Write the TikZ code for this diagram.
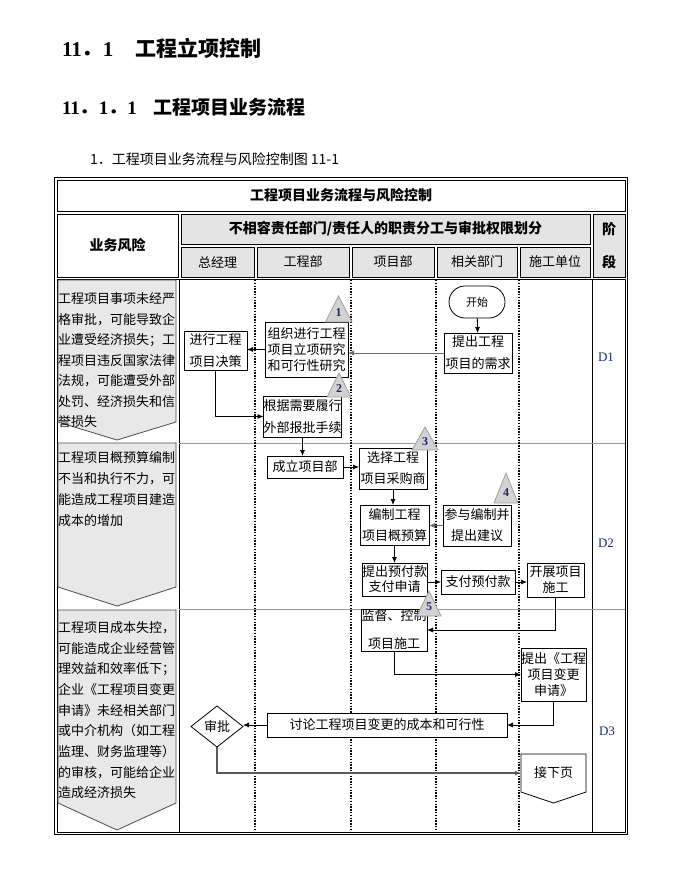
\documentclass[tikz,border=0pt]{standalone}
\usepackage{fontspec}
\setmainfont{Noto Sans CJK SC}
\newfontfamily\tnr{Liberation Serif}
\usetikzlibrary{arrows.meta,shapes.geometric}
\definecolor{hdr}{HTML}{E4E4E4}
\definecolor{riskfill}{HTML}{E8E8E8}
\definecolor{trig}{HTML}{D2D2D2}
\definecolor{navy}{HTML}{1A2B6B}
\begin{document}
\begin{tikzpicture}[x=1pt,y=-1pt,
  every node/.style={inner sep=0pt, outer sep=0pt},
  cellbox/.style={draw, line width=0.8pt, inner sep=0pt},
  hdrcell/.style={cellbox, fill=hdr},
  fbox/.style={draw, fill=white, line width=0.8pt, align=center, inner sep=0pt},
  arr/.style={-{Latex[length=6pt,width=5pt]}, line width=0.8pt},
  garr/.style={arr, draw=gray!85!black, fill=black},
  lanex/.style={line width=1.4pt, dash pattern=on 1.4pt off 1.4pt},
  rowsep/.style={draw=gray!80, line width=0.8pt},
  riskshape/.style={fill=riskfill, draw=gray!60!black, line width=0.8pt},
  triang/.style={fill=trig, draw=gray!75, line width=0.8pt},
  trinum/.style={font=\tnr\bfseries\fontsize{12}{12}\selectfont, text=navy},
  risktxt/.style={anchor=west, font=\fontsize{13}{14}\selectfont},
  dlab/.style={font=\tnr\fontsize{13}{14}\selectfont, text=navy},
]
\useasboundingbox (0,0) rectangle (680,869);

% headings
\node[anchor=west, font=\fontsize{21}{24}\selectfont\bfseries] (h1) at (62,48) {{\tnr 11}．{\tnr 1}\hspace{22pt}工程立项控制};
\node[anchor=west, font=\fontsize{19}{22}\selectfont\bfseries] (h2) at (62,107) {{\tnr 11}．{\tnr 1}．{\tnr 1}\hspace{17pt}工程项目业务流程};
\node[anchor=west, font=\fontsize{14}{16}\selectfont] (h3) at (90,159) {1．工程项目业务流程与风险控制图 11-1};

% table frame
\draw[line width=1pt] (54.5,177.5) rectangle (627.5,834.5);
\node[cellbox, minimum width=568pt, minimum height=31pt, font=\fontsize{14}{16}\selectfont\bfseries] (title) at (341,195.5) {工程项目业务流程与风险控制};
\node[cellbox, minimum width=121pt, minimum height=63pt, font=\fontsize{14}{16}\selectfont\bfseries] (riskhdr) at (117.5,245.5) {业务风险};
\node[hdrcell, minimum width=409pt, minimum height=30pt, font=\fontsize{14}{16}\selectfont\bfseries] (resphdr) at (385.5,229) {不相容责任部门/责任人的职责分工与审批权限划分};
\node[hdrcell, minimum width=73pt, minimum height=30pt, font=\fontsize{13}{14}\selectfont] (c1) at (217.5,262) {总经理};
\node[hdrcell, minimum width=92pt, minimum height=30pt, font=\fontsize{13}{14}\selectfont] (c2) at (303,262) {工程部};
\node[hdrcell, minimum width=82pt, minimum height=30pt, font=\fontsize{13}{14}\selectfont] (c3) at (393,262) {项目部};
\node[hdrcell, minimum width=80pt, minimum height=30pt, font=\fontsize{13}{14}\selectfont] (c4) at (477,262) {相关部门};
\node[hdrcell, minimum width=70pt, minimum height=30pt, font=\fontsize{13}{14}\selectfont] (c5) at (555,262) {施工单位};
\node[hdrcell, minimum width=32pt, minimum height=63pt, align=center, font=\fontsize{14}{33}\selectfont\bfseries] (stage) at (609,245.5) {阶\\段};

% body
\draw[line width=0.8pt] (57,279.5) rectangle (625,832);
\draw[line width=0.8pt] (179,279.5) -- (179,832);
\draw[line width=0.8pt] (592,279.5) -- (592,832);
\draw[rowsep] (179,443) -- (625,443);
\draw[rowsep] (179,609) -- (625,609);
\foreach \x in {255,351,436,519} \draw[lanex] (\x,280) -- (\x,832);

% risk column
\draw[riskshape] (58,280) -- (176,280) -- (176,422) -- (117,440) -- (58,422) -- cycle;
\draw[riskshape] (58,443) -- (176,443) -- (176,587) -- (117,606) -- (58,587) -- cycle;
\draw[riskshape] (58,610) -- (176,610) -- (176,803) -- (117,830) -- (58,803) -- cycle;
\foreach \t [count=\i] in {工程项目事项未经严,格审批，可能导致企,业遭受经济损失；工,程项目违反国家法律,法规，可能遭受外部,处罚、经济损失和信,誉损失}
  \node[risktxt] (ra\i) at (58,{299+20.5*(\i-1)}) {\t};
\foreach \t [count=\i] in {工程项目概预算编制,不当和执行不力，可,能造成工程项目建造,成本的增加}
  \node[risktxt] (rb\i) at (58,{458+21*(\i-1)}) {\t};
\foreach \t [count=\i] in {工程项目成本失控，,可能造成企业经营管,理效益和效率低下；,企业《工程项目变更,申请》未经相关部门,或中介机构（如工程,监理、财务监理等）,的审核，可能给企业,造成经济损失}
  \node[risktxt] (rc\i) at (58,{628+20.6*(\i-1)}) {\t};

% stage labels
\node[dlab] (d1) at (606,357) {D1};
\node[dlab] (d2) at (606,543) {D2};
\node[dlab] (d3) at (607,731) {D3};

% flow nodes
\node[fbox, rounded corners=16pt, minimum width=56pt, minimum height=32pt, font=\fontsize{11}{14}\selectfont] (start) at (477,302) {开始};
\node[fbox, minimum width=68pt, minimum height=40pt, font=\fontsize{13}{22}\selectfont] (need) at (478,353) {提出工程\\项目的需求};
\node[fbox, minimum width=83pt, minimum height=55pt, font=\fontsize{13}{16}\selectfont] (org) at (306.5,349.5) {组织进行工程\\项目立项研究\\和可行性研究};
\node[fbox, minimum width=63pt, minimum height=39pt, font=\fontsize{13}{22}\selectfont] (decide) at (215.5,350.5) {进行工程\\项目决策};
\node[fbox, minimum width=75pt, minimum height=41pt, font=\fontsize{13}{22}\selectfont] (report) at (302.5,416.5) {根据需要履行\\外部报批手续};
\node[fbox, minimum width=76pt, minimum height=22pt, font=\fontsize{13}{14}\selectfont] (setup) at (305,467) {成立项目部};
\node[fbox, minimum width=68pt, minimum height=41pt, font=\fontsize{13}{21}\selectfont] (select) at (393,468.5) {选择工程\\项目采购商};
\node[fbox, minimum width=69pt, minimum height=40pt, font=\fontsize{13}{21}\selectfont] (budget) at (394.5,525) {编制工程\\项目概预算};
\node[fbox, minimum width=68pt, minimum height=41pt, font=\fontsize{13}{21}\selectfont] (advise) at (477,525.5) {参与编制并\\提出建议};
\node[fbox, minimum width=65pt, minimum height=33pt, font=\fontsize{13}{15}\selectfont] (prepay) at (394.5,579.5) {提出预付款\\支付申请};
\node[fbox, minimum width=74pt, minimum height=24pt, font=\fontsize{13}{14}\selectfont] (pay) at (478,582) {支付预付款};
\node[fbox, minimum width=57pt, minimum height=34pt, font=\fontsize{13}{16}\selectfont] (construct) at (555.5,580) {开展项目\\施工};
\node[fbox, minimum width=66pt, minimum height=42pt, font=\fontsize{13}{28}\selectfont] (supervise) at (394,630) {监督、控制\\项目施工};
\node[fbox, minimum width=61pt, minimum height=53pt, font=\fontsize{13}{16}\selectfont] (change) at (553.5,674.5) {提出《工程\\项目变更\\申请》};
\node[fbox, minimum width=240pt, minimum height=24pt, font=\fontsize{13}{14}\selectfont] (discuss) at (387,725) {讨论工程项目变更的成本和可行性};
\node[fbox, diamond, aspect=1.27, minimum width=52pt, minimum height=41pt, font=\fontsize{13}{14}\selectfont] (approve) at (217,726.5) {审批};
\draw[line width=0.8pt, fill=white] (521,754) -- (586,754) -- (586,792) -- (553.5,803) -- (521,792) -- cycle;
\node[minimum width=65pt, minimum height=38pt, font=\fontsize{13}{14}\selectfont] (next) at (553.5,773) {接下页};

% risk triangles
\draw[triang] (325.5,322) -- (352,322) -- (338.5,296) -- cycle;
\node[trinum] (t1) at (338.5,313) {1};
\draw[triang] (327,397) -- (351,397) -- (339,373) -- cycle;
\node[trinum] (t2) at (339,389) {2};
\draw[triang] (412,450) -- (438,450) -- (425,427) -- cycle;
\node[trinum] (t3) at (425,442) {3};
\draw[triang] (494,503) -- (518,503) -- (506,473) -- cycle;
\node[trinum] (t4) at (506,493) {4};
\draw[triang] (417,616) -- (441,616) -- (429,591) -- cycle;
\node[trinum] (t5) at (429,607) {5};

% connectors
\draw[arr] (start) -- (need);
\draw[garr] (need.west) -- (need.west -| org.east);
\draw[arr] (org.west) -- (org.west -| decide.east);
\draw[arr] (decide.south) |- (report.west);
\draw[arr] (report.south) -- (report.south |- setup.north);
\draw[arr] (setup.east) -- (setup.east -| select.west);
\draw[arr] (select.south) -- (select.south |- budget.north);
\draw[garr] (advise.west) -- (advise.west -| budget.east);
\draw[arr] (budget.south) -- (budget.south |- prepay.north);
\draw[arr] (prepay.east |- pay.west) -- (pay.west);
\draw[arr] (pay.east) -- (pay.east -| construct.west);
\draw[arr] (construct.south) |- (supervise.east);
\draw[arr] (supervise.south) |- (change.west);
\draw[arr] (change.south) |- (discuss.east);
\draw[arr] (discuss.west) -- (discuss.west -| approve.east);
\draw[arr, draw=gray!70!black, line width=1.2pt] (approve.south) |- (next.west);
\end{tikzpicture}
\end{document}
